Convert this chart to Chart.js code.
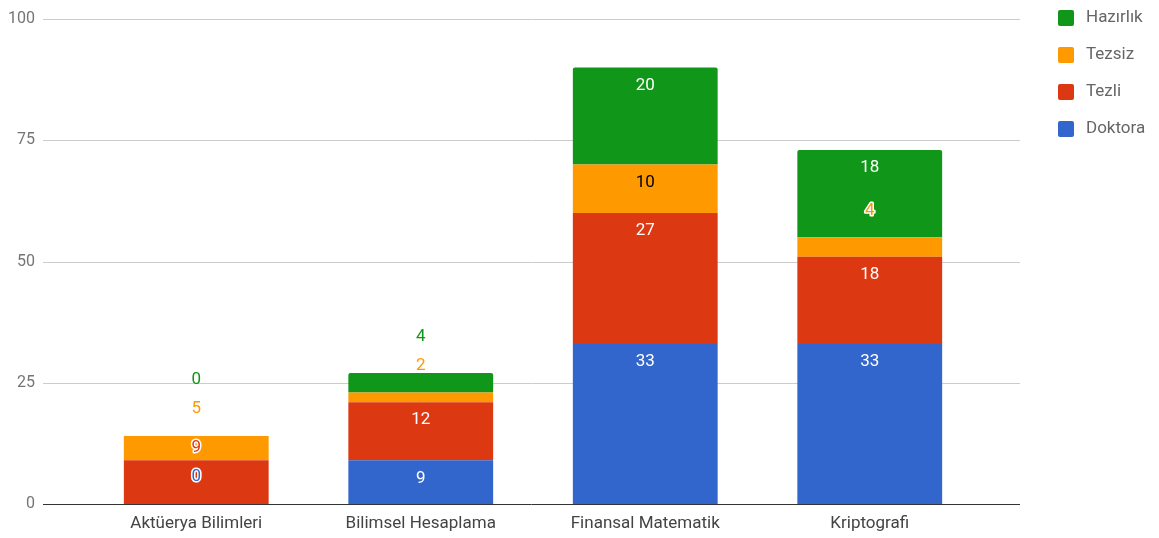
<!DOCTYPE html>
<html>
<head>
<meta charset="utf-8">
<script src="https://cdn.jsdelivr.net/npm/chart.js@4/dist/chart.umd.min.js"></script>
<style>
  html, body { margin: 0; padding: 0; background: #fff; }
  #wrap { width: 1159px; height: 538px; }
</style>
</head>
<body>
<div id="wrap"><canvas id="c" width="1159" height="538"></canvas></div>
<script>
const categories = ['Aktüerya Bilimleri', 'Bilimsel Hesaplama', 'Finansal Matematik', 'Kriptografi'];
const seriesNames = ['Doktora', 'Tezli', 'Tezsiz', 'Hazırlık'];
const doktora = [0, 9, 33, 33];
const tezli = [9, 12, 27, 18];
const tezsiz = [5, 2, 10, 4];
const hazirlik = [0, 4, 20, 18];
const yTicks = [0, 25, 50, 75, 100];

const colors = ['#3366cc', '#dc3912', '#ff9900', '#109618'];
const seriesValues = [doktora, tezli, tezsiz, hazirlik];
const FONT = 'Roboto, "Noto Sans", sans-serif';

// horizontal grid + baseline, wider than the bar area
const gridPlugin = {
    id: 'grid',
    beforeDatasetsDraw(chart) {
        const { ctx, scales } = chart;
        const left = 43, right = 1020;
        ctx.save();
        yTicks.forEach(v => {
            const y = Math.round(scales.y.getPixelForValue(v)) + 0.5;
            ctx.strokeStyle = v === 0 ? '#333333' : '#cccccc';
            ctx.lineWidth = 1;
            ctx.beginPath();
            ctx.moveTo(left, y);
            ctx.lineTo(right, y);
            ctx.stroke();
        });
        ctx.restore();
    }
};

// value labels, placed like the original: inside if they fit, otherwise above
const labelPlugin = {
    id: 'valueLabels',
    afterDatasetsDraw(chart) {
        const { ctx } = chart;
        ctx.save();
        ctx.font = '17px ' + FONT;
        ctx.textAlign = 'center';
        ctx.textBaseline = 'middle';
        categories.forEach((cat, i) => {
            const last = chart.getDatasetMeta(seriesNames.length - 1).data[i];
            const barTop = last.y;
            let prevY = null;
            seriesNames.forEach((name, d) => {
                const bar = chart.getDatasetMeta(d).data[i];
                const top = bar.y, base = bar.base;
                const h = base - top;
                let y = h >= 30 ? top + 18 : top - 27;
                if (prevY !== null && y > prevY - 29) y = prevY - 29;
                prevY = y;
                const text = String(seriesValues[d][i]);
                const inOwn = y >= top && y <= base;
                if (inOwn) {
                    ctx.fillStyle = d === 2 ? '#000000' : '#ffffff';
                    ctx.fillText(text, bar.x, y);
                } else if (y >= barTop) {
                    ctx.lineWidth = 3;
                    ctx.strokeStyle = '#ffffff';
                    ctx.lineJoin = 'round';
                    ctx.strokeText(text, bar.x, y);
                    ctx.fillStyle = colors[d];
                    ctx.fillText(text, bar.x, y);
                } else {
                    ctx.fillStyle = colors[d];
                    ctx.fillText(text, bar.x, y);
                }
            });
        });
        ctx.restore();
    }
};

// legend on the right, top series first
const legendPlugin = {
    id: 'sideLegend',
    afterDraw(chart) {
        const { ctx } = chart;
        ctx.save();
        ctx.font = '17px ' + FONT;
        ctx.textBaseline = 'middle';
        ctx.textAlign = 'left';
        const order = [3, 2, 1, 0];
        order.forEach((d, k) => {
            const cy = 18 + k * 37;
            ctx.fillStyle = colors[d];
            ctx.beginPath();
            ctx.roundRect(1058, cy - 8, 16, 16, 2);
            ctx.fill();
            ctx.fillStyle = '#666666';
            ctx.fillText(seriesNames[d], 1086, cy);
        });
        ctx.restore();
    }
};

const ctx = document.getElementById('c').getContext('2d');
new Chart(ctx, {
    type: 'bar',
    data: {
        labels: categories,
        datasets: seriesNames.map((name, d) => ({
            label: name,
            data: seriesValues[d],
            backgroundColor: colors[d],
            borderWidth: 0,
            borderRadius: d === seriesNames.length - 1 ? { topLeft: 2, topRight: 2 } : 0,
            borderSkipped: false,
            categoryPercentage: 1,
            barPercentage: 0.645
        }))
    },
    options: {
        responsive: false,
        animation: false,
        devicePixelRatio: 1,
        layout: { padding: { left: 9, right: 177, top: 19, bottom: 5 } },
        plugins: {
            legend: { display: false },
            tooltip: { enabled: false }
        },
        scales: {
            x: {
                stacked: true,
                grid: { display: false, drawTicks: false },
                border: { display: false },
                afterFit: (axis) => { axis.height = 29; },
                ticks: { color: '#444444', font: { family: FONT, size: 17 }, padding: 10, maxRotation: 0, minRotation: 0, autoSkip: false }
            },
            y: {
                stacked: true,
                min: 0,
                max: 100,
                grid: { display: false, drawTicks: false },
                border: { display: false },
                afterBuildTicks: (axis) => { axis.ticks = yTicks.map(v => ({ value: v })); },
                afterFit: (axis) => {
                    axis.width = 75;
                    axis.paddingTop = 9;
                    axis.paddingBottom = 9;
                },
                ticks: { color: '#757575', font: { family: FONT, size: 16 }, padding: 49 }
            }
        }
    },
    plugins: [gridPlugin, labelPlugin, legendPlugin]
});
</script>
</body>
</html>
